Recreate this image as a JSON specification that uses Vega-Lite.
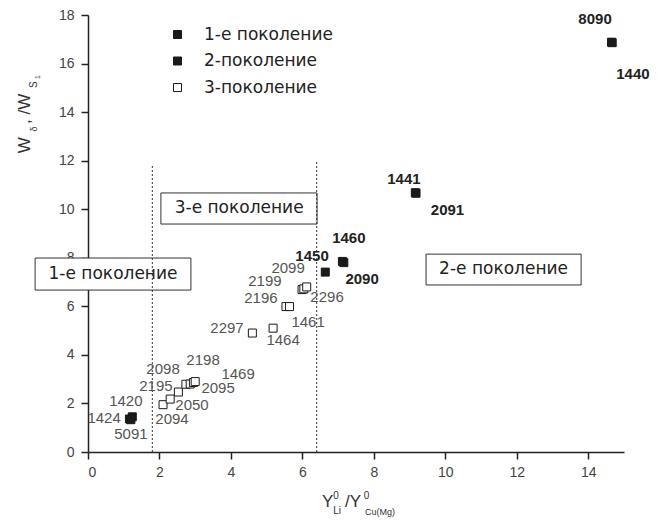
{
  "$schema": "https://vega.github.io/schema/vega-lite/v6.json",
  "width": 536,
  "height": 437,
  "autosize": "none",
  "padding": {"left": 88, "top": 15, "right": 37, "bottom": 69},
  "background": "white",
  "config": {
    "view": {"stroke": null},
    "font": "Liberation Sans",
    "axis": {"grid": false}
  },
  "datasets": {
    "points": [
      {"id": "1424", "gen": "1-е поколение", "x": 1.16, "y": 1.36, "lx": 0.45, "ly": 1.42},
      {"id": "1420", "gen": "1-е поколение", "x": 1.24, "y": 1.45, "lx": 1.06, "ly": 2.10},
      {"id": "5091", "gen": "1-е поколение", "x": 1.20, "y": 1.33, "lx": 1.20, "ly": 0.74},
      {"id": "8090", "gen": "2-поколение", "x": 14.65, "y": 16.88, "lx": 14.19, "ly": 17.83},
      {"id": "1440", "gen": "2-поколение", "x": 14.67, "y": 16.86, "lx": 15.25, "ly": 15.57},
      {"id": "1441", "gen": "2-поколение", "x": 9.16, "y": 10.68, "lx": 8.84, "ly": 11.26},
      {"id": "2091", "gen": "2-поколение", "x": 9.18, "y": 10.66, "lx": 10.06, "ly": 9.97},
      {"id": "1460", "gen": "2-поколение", "x": 7.12, "y": 7.85, "lx": 7.30, "ly": 8.81},
      {"id": "2090", "gen": "2-поколение", "x": 7.16, "y": 7.80, "lx": 7.67, "ly": 7.13},
      {"id": "1450", "gen": "2-поколение", "x": 6.64, "y": 7.41, "lx": 6.27, "ly": 8.07},
      {"id": "2094", "gen": "3-поколение", "x": 2.10, "y": 1.95, "lx": 2.35, "ly": 1.36},
      {"id": "2050", "gen": "3-поколение", "x": 2.30, "y": 2.18, "lx": 2.91, "ly": 1.94},
      {"id": "2195", "gen": "3-поколение", "x": 2.53, "y": 2.47, "lx": 1.90, "ly": 2.72},
      {"id": "2098", "gen": "3-поколение", "x": 2.74, "y": 2.79, "lx": 2.10, "ly": 3.40},
      {"id": "2095", "gen": "3-поколение", "x": 2.86, "y": 2.80, "lx": 3.64, "ly": 2.64},
      {"id": "2198", "gen": "3-поколение", "x": 2.95, "y": 2.86, "lx": 3.22, "ly": 3.79},
      {"id": "1469", "gen": "3-поколение", "x": 3.00, "y": 2.90, "lx": 4.20, "ly": 3.21},
      {"id": "2297", "gen": "3-поколение", "x": 4.60, "y": 4.90, "lx": 3.89, "ly": 5.11},
      {"id": "1464", "gen": "3-поколение", "x": 5.18, "y": 5.10, "lx": 5.46, "ly": 4.61},
      {"id": "2196", "gen": "3-поколение", "x": 5.54, "y": 5.99, "lx": 4.84, "ly": 6.34},
      {"id": "1461", "gen": "3-поколение", "x": 5.64, "y": 5.99, "lx": 6.16, "ly": 5.35},
      {"id": "2199", "gen": "3-поколение", "x": 5.99, "y": 6.69, "lx": 4.95, "ly": 7.04},
      {"id": "2296", "gen": "3-поколение", "x": 6.04, "y": 6.72, "lx": 6.69, "ly": 6.38},
      {"id": "2099", "gen": "3-поколение", "x": 6.12, "y": 6.80, "lx": 5.60, "ly": 7.56}
    ],
    "boxes": [
      {"label": "1-е поколение", "x1": -1.48, "x2": 2.88, "y1": 7.99, "y2": 6.67, "tx": 0.70, "ty": 7.33},
      {"label": "3-е поколение", "x1": 2.04, "x2": 6.41, "y1": 10.67, "y2": 9.39, "tx": 4.23, "ty": 10.03},
      {"label": "2-е поколение", "x1": 9.46, "x2": 13.80, "y1": 8.15, "y2": 6.88, "tx": 11.63, "ty": 7.52}
    ],
    "dividers": [
      {"x": 1.8, "ybot": 0, "ytop": 11.8},
      {"x": 6.4, "ybot": 0, "ytop": 11.95}
    ],
    "one": [{"k": 1}]
  },
  "layer": [
    {
      "data": {"name": "points"},
      "mark": {"type": "point", "shape": "square", "size": 64, "stroke": "#1a1a1a", "strokeWidth": 1, "opacity": 1, "fillOpacity": 1, "filled": true},
      "encoding": {
        "x": {
          "field": "x", "type": "quantitative", "title": null,
          "scale": {"domain": [0, 15], "nice": false, "zero": false},
          "axis": {
            "title": null,
            "values": [0,1,2,3,4,5,6,7,8,9,10,11,12,13,14,15],
            "labelExpr": "datum.value % 2 === 0 ? datum.label : ''",
            "tickSize": {"condition": {"test": "datum.value % 2 === 0", "value": 7}, "value": 4},
            "tickWidth": 1.5, "tickColor": "#222",
            "domainColor": "#222", "domainWidth": 1.5,
            "labelFontSize": 14, "labelColor": "#444", "labelFont": "Liberation Sans",
            "labelPadding": 6
          }
        },
        "y": {
          "field": "y", "type": "quantitative", "title": null,
          "scale": {"domain": [0, 18], "nice": false, "zero": false},
          "axis": {
            "title": null,
            "values": [0,1,2,3,4,5,6,7,8,9,10,11,12,13,14,15,16,17,18],
            "labelExpr": "datum.value % 2 === 0 ? datum.label : ''",
            "tickSize": {"condition": {"test": "datum.value % 2 === 0", "value": 7}, "value": 4},
            "tickWidth": 1.5, "tickColor": "#222",
            "domainColor": "#222", "domainWidth": 1.5,
            "labelFontSize": 14, "labelColor": "#444", "labelFont": "Liberation Sans",
            "labelPadding": 7
          }
        },
        "fill": {
          "field": "gen", "type": "nominal",
          "scale": {"domain": ["1-е поколение", "2-поколение", "3-поколение"], "range": ["#1a1a1a", "#1a1a1a", "#ffffff"]},
          "legend": {
            "title": null, "orient": "none", "legendX": 81, "legendY": 11,
            "symbolType": "square", "symbolSize": 64, "symbolStrokeColor": "#1a1a1a", "symbolStrokeWidth": 1, "symbolOpacity": 1,
            "labelFontSize": 17, "labelFont": "DejaVu Sans", "labelColor": "#222", "labelOffset": 18,
            "rowPadding": 8.5, "padding": 0
          }
        }
      }
    },
    {
      "data": {"name": "boxes"},
      "mark": {"type": "rect", "fill": "white", "stroke": "#333", "strokeWidth": 1},
      "encoding": {
        "x": {"field": "x1", "type": "quantitative", "title": null},
        "x2": {"field": "x2"},
        "y": {"field": "y1", "type": "quantitative", "title": null},
        "y2": {"field": "y2"}
      }
    },
    {
      "data": {"name": "boxes"},
      "mark": {"type": "text", "fontSize": 17, "font": "DejaVu Sans", "color": "#222", "align": "center", "baseline": "middle"},
      "encoding": {
        "x": {"field": "tx", "type": "quantitative", "title": null},
        "y": {"field": "ty", "type": "quantitative", "title": null},
        "text": {"field": "label", "type": "nominal"}
      }
    },
    {
      "data": {"name": "dividers"},
      "mark": {"type": "rule", "color": "#333", "strokeWidth": 1, "strokeDash": [2, 2]},
      "encoding": {
        "x": {"field": "x", "type": "quantitative", "title": null},
        "y": {"field": "ybot", "type": "quantitative", "title": null},
        "y2": {"field": "ytop"}
      }
    },
    {
      "data": {"name": "points"},
      "transform": [{"filter": "datum.gen !== '2-поколение'"}],
      "mark": {"type": "text", "fontSize": 15, "font": "Liberation Sans", "color": "#555", "align": "center", "baseline": "middle"},
      "encoding": {
        "x": {"field": "lx", "type": "quantitative", "title": null},
        "y": {"field": "ly", "type": "quantitative", "title": null},
        "text": {"field": "id", "type": "nominal"}
      }
    },
    {
      "data": {"name": "points"},
      "transform": [{"filter": "datum.gen === '2-поколение'"}],
      "mark": {"type": "text", "fontSize": 15, "font": "Liberation Sans", "fontWeight": "bold", "color": "#222", "align": "center", "baseline": "middle"},
      "encoding": {
        "x": {"field": "lx", "type": "quantitative", "title": null},
        "y": {"field": "ly", "type": "quantitative", "title": null},
        "text": {"field": "id", "type": "nominal"}
      }
    },
    {
      "data": {"name": "one"},
      "mark": {"type": "text", "text": "Y", "fontSize": 17, "font": "Liberation Sans", "color": "#333", "align": "left", "baseline": "alphabetic"},
      "encoding": {"x": {"datum": 6.55, "type": "quantitative"}, "y": {"datum": -2.265, "type": "quantitative"}}
    },
    {
      "data": {"name": "one"},
      "mark": {"type": "text", "text": "0", "fontSize": 10, "font": "Liberation Sans", "color": "#333", "align": "left", "baseline": "alphabetic"},
      "encoding": {"x": {"datum": 6.86, "type": "quantitative"}, "y": {"datum": -1.94, "type": "quantitative"}}
    },
    {
      "data": {"name": "one"},
      "mark": {"type": "text", "text": "Li", "fontSize": 10, "font": "Liberation Sans", "color": "#333", "align": "left", "baseline": "alphabetic"},
      "encoding": {"x": {"datum": 6.86, "type": "quantitative"}, "y": {"datum": -2.55, "type": "quantitative"}}
    },
    {
      "data": {"name": "one"},
      "mark": {"type": "text", "text": "/Y", "fontSize": 17, "font": "Liberation Sans", "color": "#333", "align": "left", "baseline": "alphabetic"},
      "encoding": {"x": {"datum": 7.19, "type": "quantitative"}, "y": {"datum": -2.265, "type": "quantitative"}}
    },
    {
      "data": {"name": "one"},
      "mark": {"type": "text", "text": "0", "fontSize": 10, "font": "Liberation Sans", "color": "#333", "align": "left", "baseline": "alphabetic"},
      "encoding": {"x": {"datum": 7.72, "type": "quantitative"}, "y": {"datum": -1.94, "type": "quantitative"}}
    },
    {
      "data": {"name": "one"},
      "mark": {"type": "text", "text": "Cu(Mg)", "fontSize": 9, "font": "Liberation Sans", "color": "#333", "align": "left", "baseline": "alphabetic"},
      "encoding": {"x": {"datum": 7.75, "type": "quantitative"}, "y": {"datum": -2.59, "type": "quantitative"}}
    },
    {
      "data": {"name": "one"},
      "mark": {"type": "text", "text": "W", "angle": 270, "fontSize": 17, "font": "Liberation Sans", "color": "#333", "align": "left", "baseline": "alphabetic"},
      "encoding": {"x": {"datum": -1.623, "type": "quantitative"}, "y": {"datum": 12.31, "type": "quantitative"}}
    },
    {
      "data": {"name": "one"},
      "mark": {"type": "text", "text": "δ", "angle": 270, "fontSize": 9, "font": "Liberation Sans", "color": "#333", "align": "left", "baseline": "alphabetic"},
      "encoding": {"x": {"datum": -1.43, "type": "quantitative"}, "y": {"datum": 13.2, "type": "quantitative"}}
    },
    {
      "data": {"name": "one"},
      "mark": {"type": "text", "text": ", /W", "angle": 270, "fontSize": 17, "font": "Liberation Sans", "color": "#333", "align": "left", "baseline": "alphabetic"},
      "encoding": {"x": {"datum": -1.623, "type": "quantitative"}, "y": {"datum": 13.51, "type": "quantitative"}}
    },
    {
      "data": {"name": "one"},
      "mark": {"type": "text", "text": "S", "angle": 270, "fontSize": 10, "font": "Liberation Sans", "color": "#333", "align": "left", "baseline": "alphabetic"},
      "encoding": {"x": {"datum": -1.43, "type": "quantitative"}, "y": {"datum": 14.99, "type": "quantitative"}}
    },
    {
      "data": {"name": "one"},
      "mark": {"type": "text", "text": "1", "angle": 270, "fontSize": 7, "font": "Liberation Sans", "color": "#333", "align": "left", "baseline": "alphabetic"},
      "encoding": {"x": {"datum": -1.35, "type": "quantitative"}, "y": {"datum": 15.36, "type": "quantitative"}}
    }
  ]
}
